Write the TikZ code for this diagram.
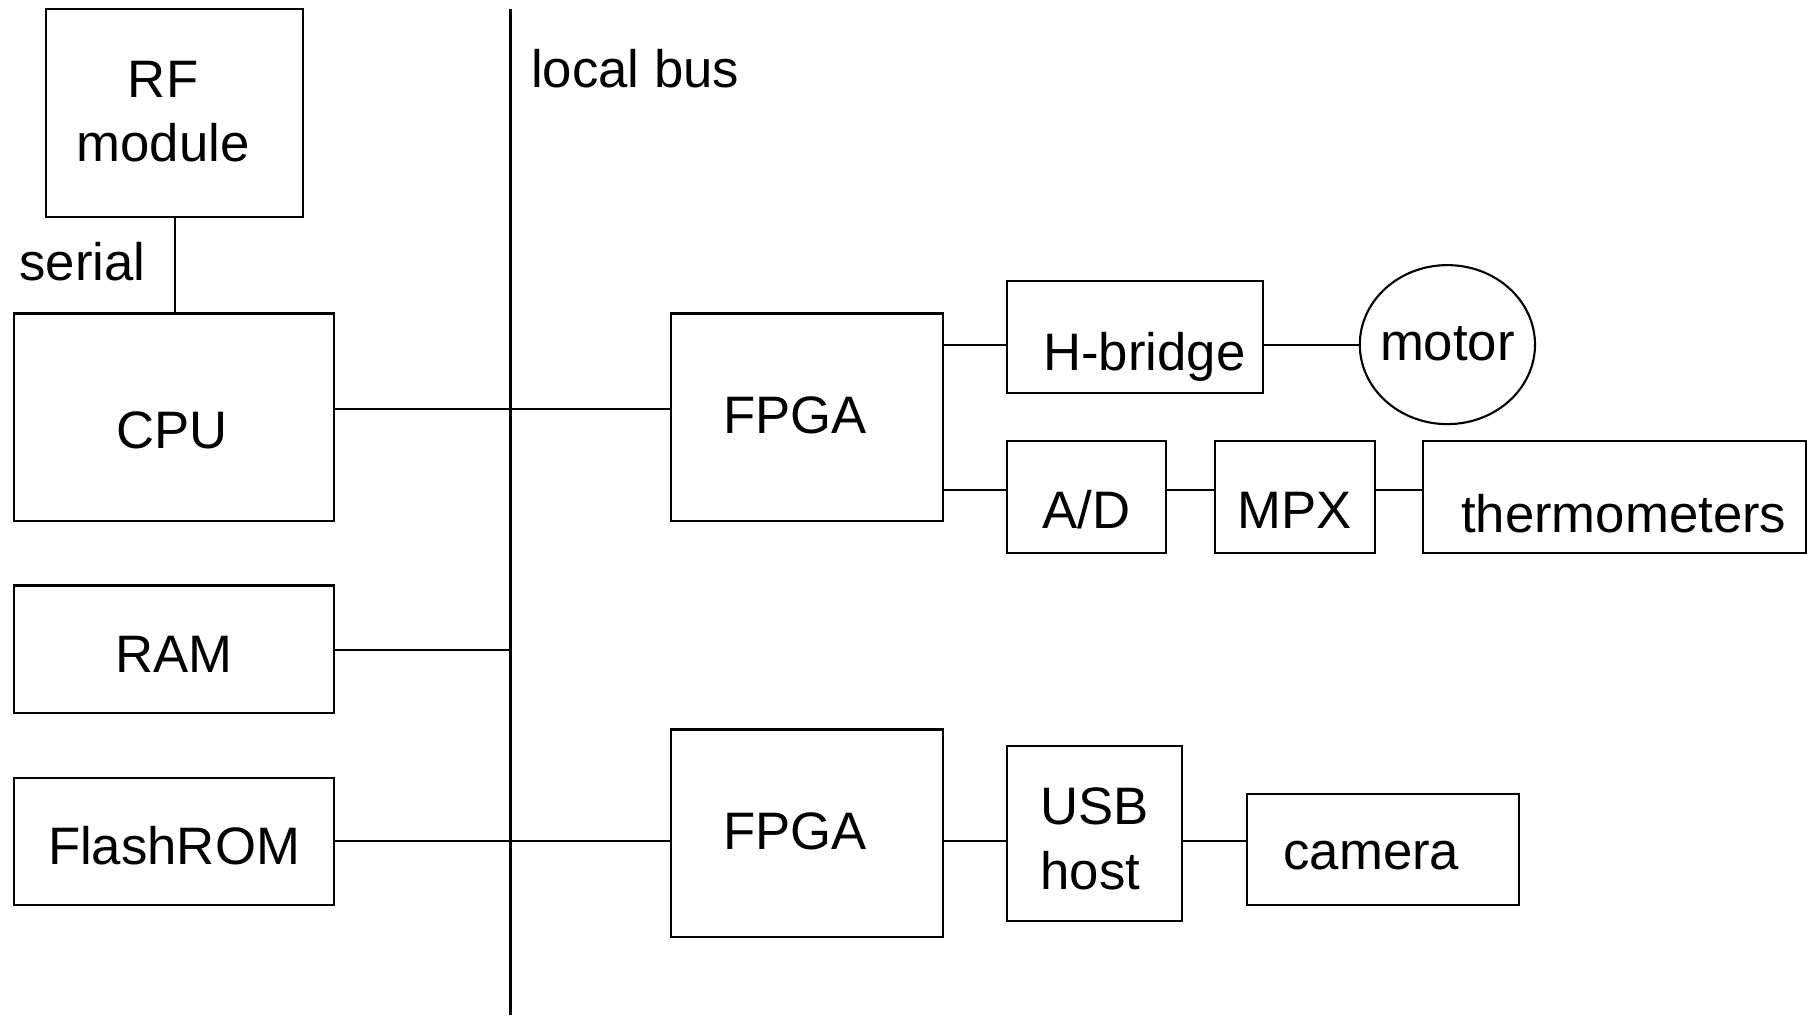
\documentclass[tikz,border=0pt]{standalone}
\usepackage{fontspec}
\setmainfont{Liberation Sans}
\usetikzlibrary{shapes.geometric}
\tikzset{blk/.style={draw, line width=0.6pt, inner sep=0pt},
  every label/.style={align=left, inner sep=0pt},
  lbl/.style={anchor=west, inner sep=0pt}}

\begin{document}
\begin{tikzpicture}[y=-1cm, line width=0.6pt, font=\fontsize{15}{18.4}\selectfont]
\useasboundingbox (0,0) rectangle (18.07,10.15);
\node[blk, minimum width=2.570cm, minimum height=2.075cm,
  label={[align=center, xshift=-0.115cm, yshift=0.012cm]center:RF\\module}] (rf) at (1.746,1.129) {};
\node[blk, minimum width=3.204cm, minimum height=2.074cm,
  label={[xshift=-0.023cm, yshift=-0.127cm]center:CPU}] (cpu) at (1.740,4.172) {};
\node[blk, minimum width=3.204cm, minimum height=1.279cm,
  label={[yshift=-0.046cm]center:RAM}] (ram) at (1.740,6.494) {};
\node[blk, minimum width=3.204cm, minimum height=1.267cm,
  label={[yshift=-0.046cm]center:FlashROM}] (rom) at (1.740,8.413) {};
\node[blk, minimum width=2.720cm, minimum height=2.074cm,
  label={[xshift=-0.115cm, yshift=0.023cm]center:FPGA}] (fpga1) at (8.067,4.172) {};
\node[blk, minimum width=2.720cm, minimum height=2.074cm,
  label={[xshift=-0.115cm, yshift=0.023cm]center:FPGA}] (fpga2) at (8.067,8.332) {};
\node[blk, minimum width=2.558cm, minimum height=1.118cm,
  label={[xshift=0.092cm, yshift=-0.196cm]center:H-bridge}] (hb) at (11.351,3.371) {};
\node[blk, ellipse, minimum width=1.752cm, minimum height=1.590cm,
  label={[yshift=0.012cm]center:motor}] (motor) at (14.474,3.446) {};
\node[blk, minimum width=1.590cm, minimum height=1.118cm,
  label={[yshift=-0.127cm]center:A/D}] (ad) at (10.867,4.973) {};
\node[blk, minimum width=1.602cm, minimum height=1.118cm,
  label={[yshift=-0.127cm]center:MPX}] (mpx) at (12.947,4.973) {};
\node[blk, minimum width=3.826cm, minimum height=1.118cm,
  label={[xshift=0.092cm, yshift=-0.161cm]center:thermometers}] (therm) at (16.145,4.973) {};
\node[blk, minimum width=1.752cm, minimum height=1.752cm,
  label={[yshift=-0.058cm]center:USB\\host}] (usb) at (10.948,8.332) {};
\node[blk, minimum width=2.720cm, minimum height=1.106cm,
  label={[xshift=-0.115cm, yshift=-0.058cm]center:camera}] (cam) at (13.829,8.493) {};

\node[lbl] (serial) at (0.184,2.616) {serial};
\node[lbl] (lbus) at (5.301,0.691) {local bus};

\coordinate (bustop) at (5.105,0.092);
\coordinate (busbot) at (5.105,10.153);
\coordinate (b1) at (5.105,4.091);
\coordinate (b2) at (5.105,6.500);
\coordinate (b3) at (5.105,8.413);
\coordinate (h1) at (0,3.446);
\coordinate (h2) at (0,4.898);

\draw (bustop) -- (busbot);
\draw (rf.south -| 1.751,0) -- (cpu.north -| 1.751,0);
\draw (cpu.east |- b1) -- (fpga1.west |- b1);
\draw (ram.east |- b2) -- (b2);
\draw (rom.east |- b3) -- (fpga2.west |- b3);
\draw (fpga1.east |- h1) -- (hb.west |- h1);
\draw (hb.east |- h1) -- (motor.west);
\draw (fpga1.east |- h2) -- (ad.west |- h2);
\draw (ad.east |- h2) -- (mpx.west |- h2);
\draw (mpx.east |- h2) -- (therm.west |- h2);
\draw (fpga2.east |- b3) -- (usb.west |- b3);
\draw (usb.east |- b3) -- (cam.west |- b3);
\end{tikzpicture}
\end{document}
